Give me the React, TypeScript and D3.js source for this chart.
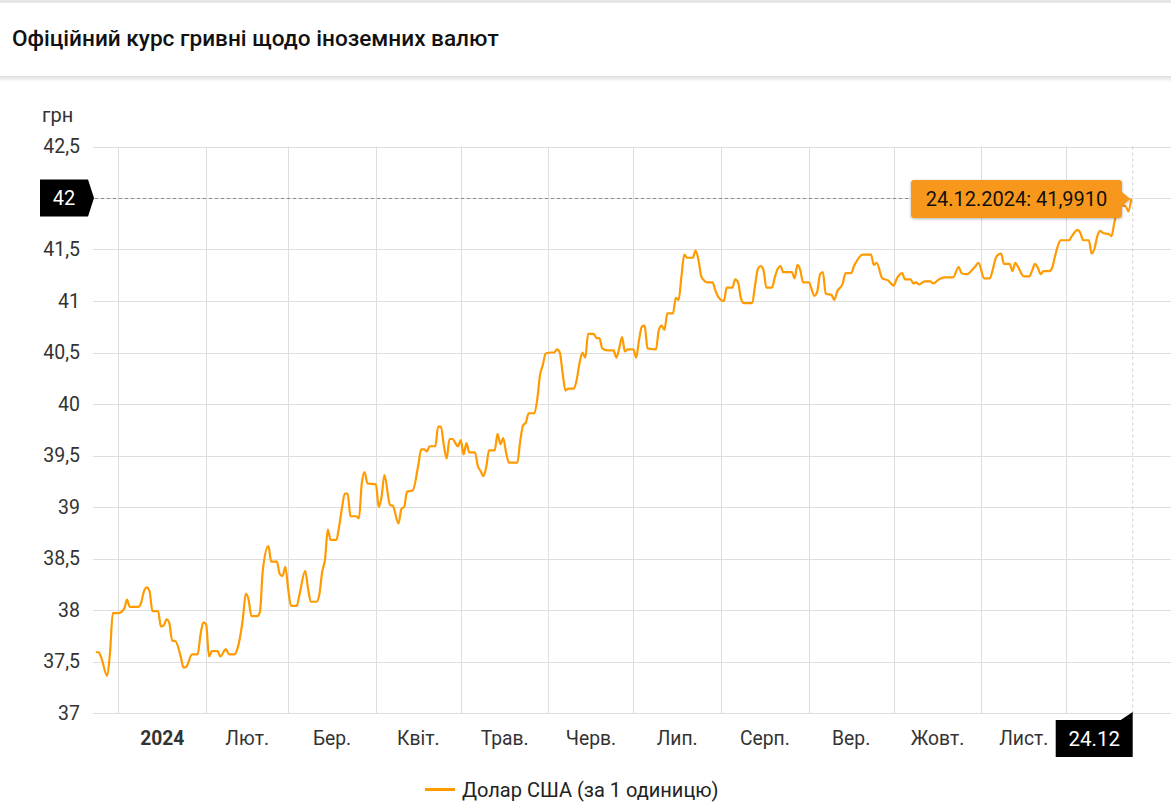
import React from "react";
import * as d3 from "d3";

// Day offsets from 1 Jan 2024 and official USD/UAH rates
const dayOffsets = [
  -8, -7, -6, -4, -3, -2, 0, 2, 3, 4, 7, 8, 9, 10, 11, 12, 14, 15, 16, 17, 18, 19, 20, 22, 23, 24, 26, 28, 29, 30, 31, 32, 33, 35, 36, 38, 39, 41, 42, 44, 45, 46, 47, 49, 50, 51, 53, 54, 56, 57, 58, 59, 60, 61, 63, 64, 66, 67, 68, 70, 71, 72, 73, 74, 75, 77, 78, 79, 80, 81, 82, 84, 85, 86, 87, 88, 91, 92, 93, 94, 96, 97, 99, 100, 101, 102, 104, 106, 107, 108, 109, 110, 112, 113, 114, 115, 116, 117, 118, 120, 121, 122, 123, 124, 126, 127, 128, 129, 130, 131, 133, 134, 135, 136, 137, 138, 141, 142, 143, 144, 145, 147, 148, 149, 150, 151, 153, 154, 155, 156, 157, 158, 159, 161, 162, 163, 164, 165, 166, 168, 169, 170, 171, 173, 175, 176, 177, 178, 179, 180, 182, 183, 184, 185, 186, 187, 190, 191, 192, 193, 194, 196, 197, 198, 199, 200, 201, 203, 204, 205, 206, 207, 208, 210, 211, 212, 214, 215, 217, 218, 219, 220, 221, 224, 225, 226, 227, 228, 229, 231, 232, 233, 234, 235, 238, 239, 240, 241, 242, 244, 246, 247, 248, 249, 250, 252, 253, 254, 256, 257, 259, 260, 261, 263, 266, 267, 268, 270, 272, 274, 275, 277, 278, 280, 281, 282, 283, 285, 287, 288, 290, 292, 295, 297, 298, 300, 302, 303, 304, 306, 308, 309, 310, 311, 312, 313, 315, 316, 317, 318, 320, 322, 323, 324, 325, 326, 327, 329, 330, 331, 332, 333, 336, 337, 339, 340, 341, 343, 344, 345, 346, 347, 348, 350, 351, 352, 353, 354, 356, 357, 358,
];
const usdRates = [
  37.59, 37.59, 37.53, 37.36, 37.58, 37.97, 37.97, 38.01, 38.1, 38.03, 38.03, 38.07, 38.18, 38.22, 38.18, 37.99, 37.99, 37.84, 37.85, 37.91, 37.87, 37.7, 37.7, 37.55, 37.44, 37.45, 37.57, 37.57, 37.76, 37.88, 37.86, 37.55, 37.6, 37.6, 37.55, 37.62, 37.57, 37.57, 37.62, 37.92, 38.16, 38.1, 37.94, 37.94, 37.98, 38.38, 38.62, 38.47, 38.47, 38.35, 38.33, 38.42, 38.2, 38.04, 38.04, 38.15, 38.38, 38.21, 38.08, 38.08, 38.15, 38.37, 38.49, 38.78, 38.68, 38.68, 38.81, 38.99, 39.13, 39.13, 38.91, 38.91, 38.89, 39.23, 39.34, 39.23, 39.22, 39.0, 39.1, 39.31, 39.02, 39.01, 38.84, 38.98, 39.0, 39.15, 39.16, 39.41, 39.56, 39.56, 39.54, 39.59, 39.59, 39.78, 39.78, 39.6, 39.47, 39.66, 39.66, 39.59, 39.65, 39.51, 39.62, 39.53, 39.53, 39.4, 39.35, 39.3, 39.39, 39.55, 39.55, 39.71, 39.61, 39.67, 39.53, 39.43, 39.43, 39.64, 39.79, 39.82, 39.91, 39.91, 40.04, 40.28, 40.38, 40.49, 40.5, 40.5, 40.53, 40.5, 40.3, 40.13, 40.15, 40.15, 40.24, 40.4, 40.5, 40.45, 40.68, 40.68, 40.64, 40.64, 40.54, 40.52, 40.52, 40.45, 40.54, 40.65, 40.51, 40.53, 40.53, 40.45, 40.62, 40.75, 40.76, 40.54, 40.53, 40.72, 40.76, 40.72, 40.88, 40.88, 41.03, 41.01, 41.24, 41.45, 41.42, 41.42, 41.49, 41.4, 41.24, 41.2, 41.18, 41.18, 41.1, 41.04, 41.0, 41.13, 41.13, 41.21, 41.18, 41.03, 40.98, 40.98, 41.15, 41.31, 41.34, 41.3, 41.13, 41.13, 41.23, 41.31, 41.34, 41.28, 41.28, 41.22, 41.35, 41.3, 41.18, 41.18, 41.05, 41.09, 41.26, 41.28, 41.07, 41.06, 41.01, 41.09, 41.17, 41.27, 41.27, 41.34, 41.39, 41.45, 41.45, 41.35, 41.37, 41.22, 41.2, 41.15, 41.21, 41.27, 41.21, 41.21, 41.17, 41.18, 41.16, 41.19, 41.19, 41.17, 41.21, 41.23, 41.23, 41.33, 41.27, 41.26, 41.31, 41.34, 41.37, 41.22, 41.22, 41.3, 41.41, 41.45, 41.46, 41.36, 41.36, 41.29, 41.37, 41.33, 41.24, 41.24, 41.3, 41.36, 41.32, 41.26, 41.29, 41.29, 41.32, 41.43, 41.53, 41.59, 41.59, 41.63, 41.69, 41.66, 41.59, 41.59, 41.46, 41.51, 41.63, 41.68, 41.66, 41.65, 41.63, 41.76, 41.88, 41.93, 41.92, 41.87, 41.991,
];
const yTicks = [37, 37.5, 38, 38.5, 39, 39.5, 40, 40.5, 41, 41.5, 42, 42.5];
const monthLabels = ["2024", "Лют.", "Бер.", "Квіт.", "Трав.", "Черв.", "Лип.", "Серп.", "Вер.", "Жовт.", "Лист."];
const title = "Офіційний курс гривні щодо іноземних валют";
const unitLabel = "грн";
const seriesName = "Долар США (за 1 одиницю)";
const markerValue = 42;
const lastDateLabel = "24.12";
const tooltipLabel = "24.12.2024: 41,9910";

const W = 1171;
const H = 808;
const LINE = "#ff9a00";
const GRID = "#dedede";
const FONT = "Roboto, 'Noto Sans', sans-serif";

export default function App() {
  const base = new Date(2024, 0, 1);
  const data = dayOffsets.map((d, i) => ({ date: d3.timeDay.offset(base, d), v: usdRates[i] }));

  const x = d3
    .scaleTime()
    .domain([new Date(2023, 11, 23), new Date(2024, 11, 24, 12)])
    .range([93, 1132.7]);
  const y = d3.scaleLinear().domain([37, 42.5]).range([713, 146.5]);

  const line = d3
    .line<{ date: Date; v: number }>()
    .x((d) => x(d.date))
    .y((d) => y(d.v))
    .curve(d3.curveMonotoneX);

  const months = d3.timeMonth.range(new Date(2024, 0, 1), new Date(2024, 11, 2));
  const fmt = (v: number) => String(v).replace(".", ",");
  const last = data[data.length - 1];
  const lx = x(last.date);
  const ly = y(last.v);
  const right = 1132.7;
  const y42 = y(markerValue);

  return (
    <div style={{ position: "absolute", left: 0, top: 0, width: W, height: H, background: "#fff" }}>
      <svg width={W} height={H} style={{ display: "block", fontFamily: FONT }}>
        <defs>
          <linearGradient id="hdrShadow" x1="0" y1="0" x2="0" y2="1">
            <stop offset="0" stopColor="#000" stopOpacity="0.13" />
            <stop offset="1" stopColor="#000" stopOpacity="0" />
          </linearGradient>
          <filter id="tipShadow" x="-10%" y="-30%" width="120%" height="160%">
            <feDropShadow dx="0" dy="1" stdDeviation="1.5" floodColor="#000" floodOpacity="0.3" />
          </filter>
        </defs>
        <rect x={0} y={0} width={W} height={3} fill="#e6e6e6" />
        <rect x={0} y={76} width={W} height={6} fill="url(#hdrShadow)" />
        <text x={12} y={46} fontSize={22.6} fontWeight={500} fill="#111">
          {title}
        </text>

        {/* horizontal grid */}
        {yTicks.map((t) => (
          <line key={t} x1={93} x2={W} y1={Math.round(y(t)) + 0.5} y2={Math.round(y(t)) + 0.5} stroke={GRID} />
        ))}
        {/* vertical month grid */}
        {months.map((m) => (
          <line
            key={+m}
            x1={Math.round(x(m)) + 0.5}
            x2={Math.round(x(m)) + 0.5}
            y1={y(42.5)}
            y2={y(37)}
            stroke={GRID}
          />
        ))}
        <line x1={right} x2={right} y1={y(42.5)} y2={y(37)} stroke="#cfcfcf" strokeDasharray="3,3" />

        {/* y labels */}
        <text x={42} y={122} fontSize={20} fill="#333">
          {unitLabel}
        </text>
        {yTicks
          .filter((t) => t !== markerValue)
          .map((t) => (
            <text key={t} x={80} y={y(t)} dy="0.35em" textAnchor="end" fontSize={19.5} fill="#333">
              {fmt(t)}
            </text>
          ))}

        {/* x labels */}
        {months.map((m, i) => {
          const next = d3.timeMonth.offset(m, 1);
          const cx = (x(m) + x(next)) / 2;
          return (
            <text
              key={+m}
              x={cx}
              y={745}
              textAnchor="middle"
              fontSize={19.3}
              fontWeight={i === 0 ? 700 : 400}
              fill="#333"
            >
              {monthLabels[i]}
            </text>
          );
        })}

        {/* 42 reference line */}
        <line x1={95} x2={right} y1={Math.round(y42) + 0.5} y2={Math.round(y42) + 0.5} stroke="#888" strokeDasharray="3,3" />
        <path d={`M40,${y42 - 18.5}H88L94,${y42}L88,${y42 + 18.5}H40Z`} fill="#000" />
        <text x={64} y={y42} dy="0.35em" textAnchor="middle" fontSize={20} fill="#fff">
          {markerValue}
        </text>

        {/* line */}
        <path d={line(data) || ""} fill="none" stroke={LINE} strokeWidth={2.2} strokeLinejoin="round" />

        {/* last date box */}
        <path d={`M${right - 77},720H${right - 12}L${right},712V757H${right - 77}Z`} fill="#000" />
        <text x={right - 38.5} y={739} dy="0.35em" textAnchor="middle" fontSize={20.5} fill="#fff">
          {lastDateLabel}
        </text>

        {/* tooltip */}
        <g filter="url(#tipShadow)">
          <path
            d={`M914,180H1119Q1122,180 1122,183V${ly - 7}L${lx - 1},${ly}L1122,${ly + 7}V215Q1122,218 1119,218H914Q911,218 911,215V183Q911,180 914,180Z`}
            fill="#f7981d"
          />
        </g>
        <text x={1016.5} y={199} dy="0.35em" textAnchor="middle" fontSize={20} fill="#111">
          {tooltipLabel}
        </text>

        {/* legend */}
        <line x1={425} x2={455} y1={789.5} y2={789.5} stroke={LINE} strokeWidth={3} />
        <text x={462} y={790} dy="0.35em" fontSize={20} fill="#222">
          {seriesName}
        </text>
      </svg>
    </div>
  );
}
